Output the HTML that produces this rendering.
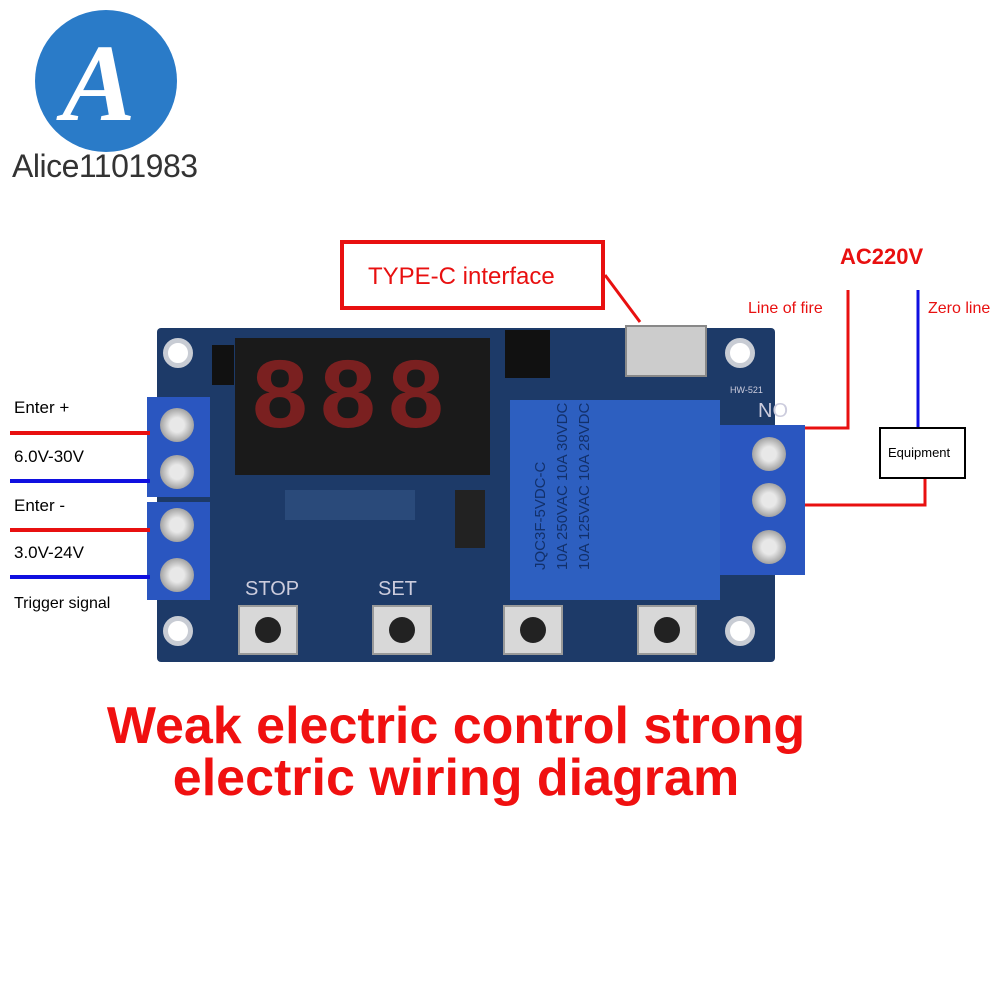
<!DOCTYPE html>
<html><head><meta charset="utf-8"><style>
body{margin:0;width:1000px;height:1000px;background:#fff;position:relative;overflow:hidden;font-family:"Liberation Sans",sans-serif}
.a{position:absolute}
.t{position:absolute;white-space:nowrap}
.hole{position:absolute;width:30px;height:30px;border-radius:50%;background:#fff;border:5px solid #c8ccd4;box-sizing:border-box}
.scr{position:absolute;width:34px;height:34px;border-radius:50%;background:radial-gradient(circle,#e8e8e8 30%,#9a9a9a 75%,#555 100%)}
.btn{position:absolute;width:60px;height:50px;background:#d8d8d8;border:2px solid #999;box-sizing:border-box}
.btn:after{content:"";position:absolute;left:15px;top:10px;width:26px;height:26px;border-radius:50%;background:#222}
.dig{position:absolute;color:#7a2020;font:bold 100px "Liberation Mono",monospace;letter-spacing:8px}
</style></head><body>
<!-- logo -->
<div class="a" style="left:35px;top:10px;width:142px;height:142px;border-radius:50%;background:#2a7bc8"></div>
<div class="t" style="left:62px;top:20px;font:bold italic 110px 'Liberation Serif',serif;color:#fff">A</div>
<div class="t" style="left:12px;top:148px;font:32px 'Liberation Sans',sans-serif;color:#333;letter-spacing:-0.5px">Alice1101983</div>

<!-- type-c box -->
<div class="a" style="left:340px;top:240px;width:265px;height:70px;border:4px solid #e81010;box-sizing:border-box"></div>
<div class="t" style="left:368px;top:263px;font-size:24px;color:#e81010">TYPE-C interface</div>

<!-- PCB -->
<div class="a" style="left:157px;top:328px;width:618px;height:334px;background:#1d3a68;border-radius:4px"></div>
<div class="hole" style="left:163px;top:338px"></div>
<div class="hole" style="left:725px;top:338px"></div>
<div class="hole" style="left:163px;top:616px"></div>
<div class="hole" style="left:725px;top:616px"></div>
<!-- display -->
<div class="a" style="left:235px;top:338px;width:255px;height:137px;background:#1a1a1a"></div>
<div class="dig" style="left:250px;top:345px">888</div>
<!-- components -->
<div class="a" style="left:505px;top:330px;width:45px;height:48px;background:#111"></div>
<div class="a" style="left:625px;top:325px;width:82px;height:52px;background:#ccc;border:2px solid #888;box-sizing:border-box"></div>
<div class="a" style="left:212px;top:345px;width:22px;height:40px;background:#111"></div>
<div class="a" style="left:455px;top:490px;width:30px;height:58px;background:#222"></div>
<div class="a" style="left:285px;top:490px;width:130px;height:30px;background:#2a4a7a"></div>
<div class="t" style="left:245px;top:578px;font-size:20px;color:#ccd">STOP</div>
<div class="t" style="left:378px;top:578px;font-size:20px;color:#ccd">SET</div>
<div class="t" style="left:758px;top:400px;font-size:20px;color:#ccd">NO</div>
<div class="t" style="left:730px;top:385px;font-size:9px;color:#ccd">HW-521</div>
<!-- relay -->
<div class="a" style="left:510px;top:400px;width:210px;height:200px;background:#2d5fc0"></div>
<div class="t" style="left:530px;top:570px;transform:rotate(-90deg);transform-origin:0 0;font-size:15px;color:#12306a;line-height:22px">JQC3F-5VDC-C<br>10A 250VAC 10A 30VDC<br>10A 125VAC 10A 28VDC</div>
<!-- buttons -->
<div class="btn" style="left:238px;top:605px"></div>
<div class="btn" style="left:372px;top:605px"></div>
<div class="btn" style="left:503px;top:605px"></div>
<div class="btn" style="left:637px;top:605px"></div>
<!-- terminals left -->
<div class="a" style="left:147px;top:397px;width:63px;height:100px;background:#2a56c0"></div>
<div class="a" style="left:147px;top:502px;width:63px;height:98px;background:#2a56c0"></div>
<div class="scr" style="left:160px;top:408px"></div>
<div class="scr" style="left:160px;top:455px"></div>
<div class="scr" style="left:160px;top:508px"></div>
<div class="scr" style="left:160px;top:558px"></div>
<!-- terminals right -->
<div class="a" style="left:720px;top:425px;width:85px;height:150px;background:#2a56c0"></div>
<div class="scr" style="left:752px;top:437px"></div>
<div class="scr" style="left:752px;top:483px"></div>
<div class="scr" style="left:752px;top:530px"></div>

<svg class="a" style="left:0;top:0" width="1000" height="1000">
<line x1="605" y1="275" x2="640" y2="322" stroke="#e81010" stroke-width="3"/>
<line x1="10" y1="433" x2="150" y2="433" stroke="#e81010" stroke-width="4"/>
<line x1="10" y1="481" x2="150" y2="481" stroke="#1010e0" stroke-width="4"/>
<line x1="10" y1="530" x2="150" y2="530" stroke="#e81010" stroke-width="4"/>
<line x1="10" y1="577" x2="150" y2="577" stroke="#1010e0" stroke-width="4"/>
<polyline points="848,290 848,428 805,428" fill="none" stroke="#e81010" stroke-width="3"/>
<line x1="918" y1="290" x2="918" y2="428" stroke="#1010e0" stroke-width="3"/>
<polyline points="925,478 925,505 805,505" fill="none" stroke="#e81010" stroke-width="3"/>
<rect x="880" y="428" width="85" height="50" fill="#fff" stroke="#000" stroke-width="2"/>
</svg>
<div class="t" style="left:888px;top:445px;font-size:13px;color:#000">Equipment</div>

<div class="t" style="left:840px;top:244px;font-weight:bold;font-size:22px;color:#e81010">AC220V</div>
<div class="t" style="left:748px;top:300px;font-size:16px;color:#e81010">Line of fire</div>
<div class="t" style="left:928px;top:300px;font-size:16px;color:#e81010">Zero line</div>

<div class="t" style="left:14px;top:398px;font-size:17px">Enter +</div>
<div class="t" style="left:14px;top:447px;font-size:17px">6.0V-30V</div>
<div class="t" style="left:14px;top:496px;font-size:17px">Enter -</div>
<div class="t" style="left:14px;top:543px;font-size:17px">3.0V-24V</div>
<div class="t" style="left:14px;top:595px;font-size:16px">Trigger signal</div>

<div class="t" style="left:0;width:912px;text-align:center;top:700px;font-weight:bold;font-size:52px;color:#f01010;line-height:52px">Weak electric control strong<br>electric wiring diagram</div>
</body></html>
